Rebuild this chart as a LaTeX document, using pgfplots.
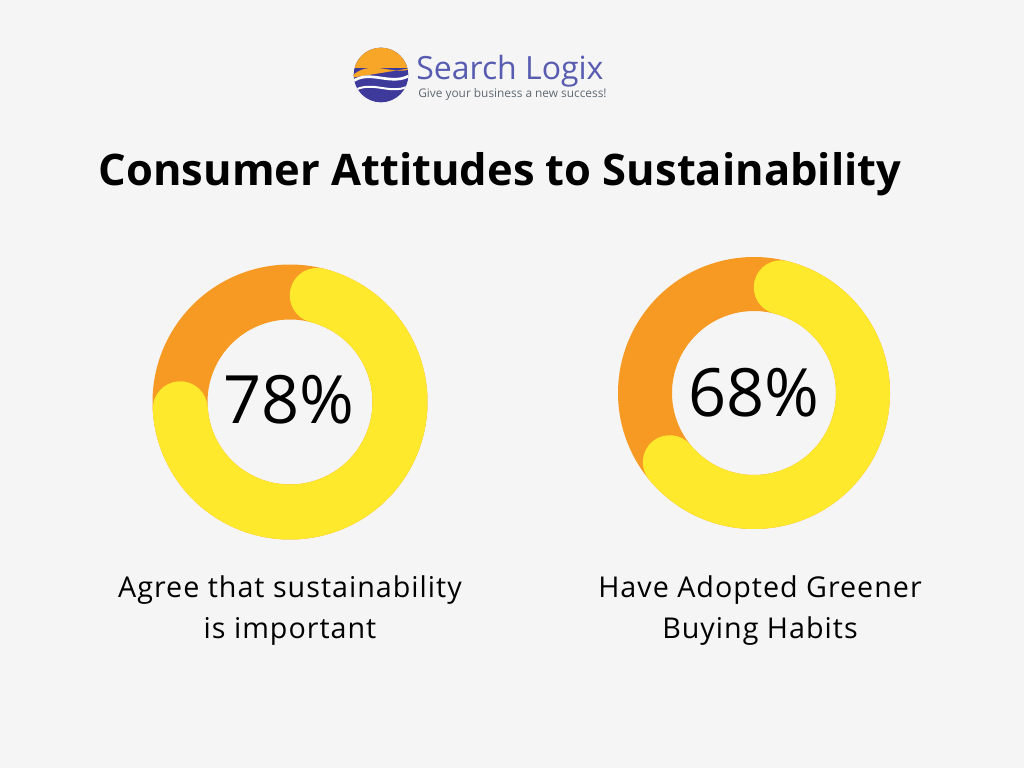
\documentclass[border=0pt]{standalone}
\usepackage{pgfplots}
\pgfplotsset{compat=1.18}
\usepackage{fontspec}
\setmainfont{Open Sans}
\definecolor{bg}{RGB}{245,245,245}
\definecolor{ringorange}{RGB}{246,154,35}
\definecolor{ringyellow}{RGB}{255,233,44}
\definecolor{logoblue}{RGB}{62,58,156}
\definecolor{logoorange}{RGB}{247,166,40}
\definecolor{logotext}{RGB}{88,92,176}
\definecolor{taggray}{RGB}{95,105,115}
% percentages (data)
\def\pctA{78}
\def\pctB{68}
\newcommand\lbl{\fontsize{21.5}{21.5}\selectfont\addfontfeature{LetterSpace=3.5}}
\begin{document}
\begin{tikzpicture}
\begin{axis}[
  x=0.75pt, y=0.75pt,
  xmin=0, xmax=1024, ymin=0, ymax=768,
  hide axis, clip=false,
]
\fill[bg] (axis cs:0,0) rectangle (axis cs:1024,768);

% ---- left donut (centre 290,366; R=110; width 55px)
\addplot[ringorange, line width=41.25pt, samples=240, domain=0:360, variable=\t]
  ({290+110*cos(\t)},{366+110*sin(\t)});
\addplot[ringyellow, line width=41.25pt, line cap=round, samples=240,
  domain={90+14.32-\pctA*3.6}:{90-14.32}, variable=\t]
  ({290+110*cos(\t)},{366+110*sin(\t)});

% ---- right donut (centre 754,375; R=109; width 54px)
\addplot[ringorange, line width=40.5pt, samples=240, domain=0:360, variable=\t]
  ({754+109*cos(\t)},{375+109*sin(\t)});
\addplot[ringyellow, line width=40.5pt, line cap=round, samples=240,
  domain={90+14.19-\pctB*3.6}:{90-14.19}, variable=\t]
  ({754+109*cos(\t)},{375+109*sin(\t)});

% percentages
\node[anchor=base, font=\fontsize{50}{50}\selectfont] at (axis cs:289,344) {\pctA\%};
\node[anchor=base, font=\fontsize{50}{50}\selectfont] at (axis cs:754,351) {\pctB\%};

% labels
\node[anchor=base, font=\lbl] at (axis cs:290,171) {Agree that sustainability};
\node[anchor=base, font=\lbl] at (axis cs:290,130) {is important};
\node[anchor=base, font=\lbl] at (axis cs:760,171) {Have Adopted Greener};
\node[anchor=base, font=\lbl] at (axis cs:760,130) {Buying Habits};

% title
\node[anchor=base, font=\bfseries\fontsize{32.6}{32.6}\selectfont] at (axis cs:500,582) {Consumer Attitudes to Sustainability};

% logo
\begin{scope}
  \clip (axis cs:381,693) circle[radius=20.5pt];
  \fill[logoblue] (axis cs:350,660) rectangle (axis cs:412,726);
  \fill[logoorange] (axis cs:350,726) rectangle (axis cs:412,700)
     .. controls (axis cs:395,690) and (axis cs:370,712) .. (axis cs:350,690) -- cycle;
  \draw[white, line width=2pt] (axis cs:352,686) .. controls (axis cs:370,700) and (axis cs:392,680) .. (axis cs:412,694);
  \draw[white, line width=1.5pt] (axis cs:352,676) .. controls (axis cs:372,690) and (axis cs:392,670) .. (axis cs:412,684);
\end{scope}
\node[anchor=base west, inner sep=0pt, text=logotext, font=\fontsize{24}{24}\selectfont] at (axis cs:416,688) {Search Logix};
\node[anchor=base west, inner sep=0pt, text=taggray, font=\fontsize{8.9}{8.9}\selectfont] at (axis cs:418,670) {Give your business a new success!};
\end{axis}
\pgfresetboundingbox
\path (0,0) rectangle (768pt,576pt);
\end{tikzpicture}
\end{document}
